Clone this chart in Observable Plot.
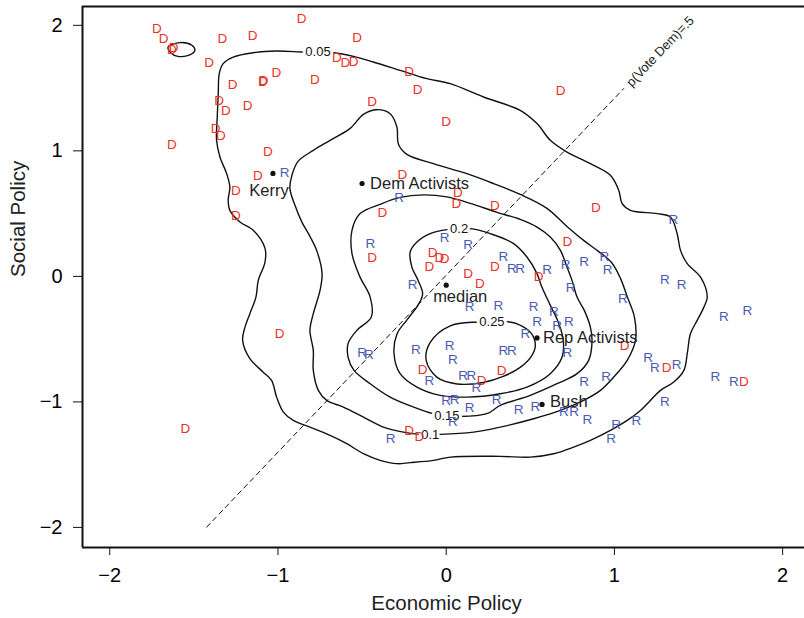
<!DOCTYPE html>
<html>
<head>
<meta charset="utf-8">
<script src="https://cdn.jsdelivr.net/npm/d3@7"></script>
<script src="https://cdn.jsdelivr.net/npm/@observablehq/plot@0.6"></script>
<style>
  html, body { margin: 0; padding: 0; background: #fff; }
  #chart svg { display: block; }
</style>
</head>
<body>
<div id="chart"></div>
<script>
// ---- Data ----
const xTicks = [-2, -1, 0, 1, 2];
const yTicks = [-2, -1, 0, 1, 2];

// Democratic respondents (economic, social)
const demEcon = [-1.72,-1.68,-1.63,-1.62,-0.86,-1.33,-1.15,-0.53,-1.41,-0.65,-0.60,-0.55,-0.22,-0.17,-1.27,-1.09,-1.085,-1.01,-0.78,-0.44,-1.35,-1.31,-1.18,0.00,-1.37,-1.34,-1.63,-1.06,-1.12,-1.25,-1.25,-0.26,-0.38,0.68,0.07,0.06,0.29,0.89,0.72,-0.44,-0.08,-0.04,-0.01,-0.10,0.29,0.13,0.20,0.55,1.06,-0.14,0.33,0.21,-0.22,-0.16,-0.99,-1.55,1.31,1.77];
const demSocial = [1.97,1.89,1.81,1.82,2.05,1.89,1.92,1.90,1.70,1.74,1.70,1.71,1.63,1.49,1.53,1.55,1.56,1.62,1.57,1.39,1.40,1.32,1.36,1.23,1.18,1.12,1.05,0.99,0.80,0.68,0.48,0.81,0.51,1.48,0.67,0.58,0.56,0.55,0.28,0.15,0.19,0.15,0.14,0.08,0.08,0.02,-0.06,0.00,-0.55,-0.74,-0.75,-0.83,-1.23,-1.28,-0.46,-1.21,-0.73,-0.84];

// Republican respondents (economic, social)
const repEcon = [-0.96,-0.28,-0.45,-0.01,0.13,0.34,0.39,0.44,0.60,0.71,0.82,0.94,0.96,0.74,1.05,-0.20,0.14,0.31,0.52,0.64,0.54,0.66,0.73,0.47,-0.50,-0.46,-0.18,0.02,0.04,0.34,0.39,0.72,0.10,0.15,-0.10,0.18,0.00,0.05,0.30,0.14,0.43,0.53,0.82,0.95,1.20,1.24,0.04,-0.33,0.70,0.76,0.84,1.01,1.13,0.98,1.30,1.40,1.65,1.79,1.37,1.60,1.71,1.30,1.35];
const repSocial = [0.83,0.63,0.26,0.31,0.25,0.16,0.06,0.06,0.05,0.09,0.12,0.16,0.05,-0.09,-0.18,-0.07,-0.24,-0.23,-0.24,-0.28,-0.36,-0.39,-0.36,-0.46,-0.61,-0.62,-0.58,-0.55,-0.66,-0.59,-0.59,-0.61,-0.79,-0.79,-0.83,-0.89,-0.99,-0.98,-0.98,-1.05,-1.06,-1.04,-0.84,-0.80,-0.65,-0.73,-1.16,-1.29,-1.08,-1.08,-1.14,-1.18,-1.15,-1.29,-0.03,-0.07,-0.32,-0.27,-0.70,-0.80,-0.84,-1.00,0.45];

// Reference points
const refNames = ["Kerry", "Dem Activists", "median", "Rep Activists", "Bush"];
const refEcon = [-1.03, -0.50, 0.00, 0.54, 0.57];
const refSocial = [0.82, 0.74, -0.07, -0.49, -1.02];

// Density contours (closed curves, data units)
const contour005 = [[-0.671,1.782],[-0.552,1.753],[-0.433,1.708],[-0.274,1.641],[-0.115,1.575],[0.024,1.535],[0.222,1.429],[0.440,1.323],[0.540,1.217],[0.619,1.084],[0.718,0.990],[0.857,0.898],[0.976,0.805],[1.026,0.685],[1.046,0.579],[1.095,0.526],[1.254,0.500],[1.333,0.473],[1.373,0.340],[1.393,0.207],[1.433,0.101],[1.512,-0.006],[1.552,-0.165],[1.532,-0.245],[1.492,-0.351],[1.452,-0.457],[1.433,-0.616],[1.413,-0.749],[1.353,-0.842],[1.274,-0.908],[1.214,-0.988],[1.155,-1.068],[1.076,-1.147],[0.976,-1.227],[0.857,-1.307],[0.758,-1.360],[0.639,-1.413],[0.500,-1.440],[0.321,-1.434],[0.024,-1.440],[-0.076,-1.466],[-0.214,-1.484],[-0.293,-1.492],[-0.393,-1.466],[-0.492,-1.413],[-0.591,-1.333],[-0.690,-1.267],[-0.810,-1.201],[-0.909,-1.147],[-0.968,-1.081],[-1.008,-0.962],[-1.038,-0.829],[-1.088,-0.763],[-1.167,-0.656],[-1.210,-0.510],[-1.196,-0.404],[-1.167,-0.297],[-1.131,-0.165],[-1.117,-0.032],[-1.077,0.114],[-1.077,0.223],[-1.147,0.367],[-1.226,0.433],[-1.286,0.526],[-1.296,0.606],[-1.286,0.712],[-1.305,0.818],[-1.345,0.951],[-1.365,1.084],[-1.361,1.269],[-1.355,1.456],[-1.349,1.615],[-1.326,1.695],[-1.266,1.747],[-1.147,1.782],[-1.008,1.795],[-0.849,1.787],[-0.762,1.785]];
const contour005b = [[-1.653,1.827],[-1.583,1.862],[-1.512,1.841],[-1.494,1.801],[-1.524,1.765],[-1.595,1.753],[-1.633,1.775]];
const contour010 = [[-0.036,-1.259],[0.163,-1.241],[0.321,-1.201],[0.520,-1.134],[0.679,-1.068],[0.817,-0.988],[0.917,-0.908],[0.996,-0.802],[1.076,-0.669],[1.125,-0.510],[1.119,-0.324],[1.077,-0.165],[1.036,-0.016],[0.982,0.112],[0.905,0.199],[0.817,0.287],[0.718,0.398],[0.599,0.542],[0.440,0.653],[0.282,0.739],[0.123,0.818],[-0.076,0.898],[-0.234,0.972],[-0.284,1.052],[-0.293,1.190],[-0.333,1.296],[-0.413,1.328],[-0.492,1.291],[-0.571,1.179],[-0.690,1.084],[-0.790,1.004],[-0.881,0.916],[-0.917,0.805],[-0.929,0.701],[-0.899,0.566],[-0.857,0.430],[-0.810,0.319],[-0.770,0.207],[-0.738,0.024],[-0.750,-0.112],[-0.790,-0.297],[-0.810,-0.430],[-0.790,-0.590],[-0.790,-0.749],[-0.760,-0.908],[-0.710,-0.988],[-0.611,-1.041],[-0.492,-1.121],[-0.373,-1.201],[-0.254,-1.241],[-0.155,-1.259]];
const contour015 = [[0.004,-1.108],[0.083,-1.116],[0.242,-1.094],[0.321,-1.028],[0.500,-0.948],[0.659,-0.855],[0.778,-0.775],[0.847,-0.669],[0.867,-0.510],[0.857,-0.404],[0.821,-0.271],[0.778,-0.165],[0.748,-0.032],[0.718,0.074],[0.679,0.207],[0.619,0.313],[0.540,0.393],[0.440,0.454],[0.302,0.510],[0.143,0.582],[0.004,0.633],[-0.135,0.649],[-0.274,0.629],[-0.393,0.574],[-0.512,0.500],[-0.560,0.367],[-0.560,0.181],[-0.512,-0.006],[-0.452,-0.165],[-0.445,-0.324],[-0.531,-0.430],[-0.583,-0.534],[-0.583,-0.645],[-0.548,-0.749],[-0.452,-0.855],[-0.333,-0.962],[-0.195,-1.041],[-0.077,-1.094]];
const contour020 = [[0.077,0.375],[0.143,0.380],[0.262,0.340],[0.401,0.261],[0.480,0.154],[0.540,0.022],[0.565,-0.072],[0.619,-0.231],[0.667,-0.367],[0.696,-0.510],[0.689,-0.643],[0.619,-0.775],[0.480,-0.882],[0.321,-0.935],[0.123,-0.962],[-0.036,-0.948],[-0.174,-0.882],[-0.274,-0.775],[-0.310,-0.616],[-0.292,-0.457],[-0.226,-0.335],[-0.161,-0.215],[-0.140,-0.138],[-0.167,-0.032],[-0.204,0.074],[-0.214,0.194],[-0.174,0.273],[-0.095,0.340],[0.004,0.372]];
const contour025 = [[0.274,-0.359],[0.351,-0.359],[0.429,-0.382],[0.506,-0.454],[0.530,-0.550],[0.506,-0.637],[0.440,-0.725],[0.339,-0.797],[0.220,-0.845],[0.065,-0.857],[-0.054,-0.805],[-0.119,-0.669],[-0.095,-0.526],[0.024,-0.394],[0.190,-0.363]];

const contourLevels = ["0.05", "0.1", "0.15", "0.2", "0.25"];
const contourLabelEcon = [-0.762, -0.095, 0.004, 0.077, 0.272];
const contourLabelSocial = [1.785, -1.259, -1.108, 0.375, -0.359];

// p(Vote Dem) = .5 line
const cutEcon = [-1.424, 1.055];
const cutSocial = [-1.998, 1.496];

// ---- Build tables ----
const dems = demEcon.map((x, i) => ({x, y: demSocial[i]}));
const reps = repEcon.map((x, i) => ({x, y: repSocial[i]}));
const refs = refNames.map((name, i) => ({name, x: refEcon[i], y: refSocial[i]}));
const curves = [contour005, contour005b, contour010, contour015, contour020, contour025];
const labels = contourLevels.map((t, i) => ({t, x: contourLabelEcon[i], y: contourLabelSocial[i]}));
const cut = cutEcon.map((x, i) => ({x, y: cutSocial[i]}));

const X0 = -2.162, X1 = 2.13, Y0 = -2.16, Y1 = 2.15;
const font = "'Liberation Sans', Arial, Helvetica, sans-serif";

const refOffsets = {
  "Kerry": {dx: -4, dy: 17, anchor: "middle"},
  "Dem Activists": {dx: 8, dy: 0, anchor: "start"},
  "median": {dx: 14, dy: 12, anchor: "middle"},
  "Rep Activists": {dx: 6, dy: 0, anchor: "start"},
  "Bush": {dx: 8, dy: -3, anchor: "start"}
};

const refLabelMarks = refNames.map(n => Plot.text(refs.filter(d => d.name === n), {
  x: "x", y: "y", text: "name", dx: refOffsets[n].dx, dy: refOffsets[n].dy,
  textAnchor: refOffsets[n].anchor, fontSize: 16.5, fill: "#222"
}));

const chart = Plot.plot({
  width: 804,
  height: 618,
  marginLeft: 82,
  marginRight: 0,
  marginTop: 6,
  marginBottom: 71,
  style: {fontFamily: font, background: "#fff"},
  x: {domain: [X0, X1]},
  y: {domain: [Y0, Y1]},
  marks: [
    ...curves.map(c => Plot.line(c, {x: d => d[0], y: d => d[1], curve: "catmull-rom-closed", stroke: "#111", strokeWidth: 1.4})),
    Plot.line(cut, {x: "x", y: "y", stroke: "#111", strokeWidth: 1, strokeDasharray: "5,4"}),
    Plot.text([cut[1]], {x: "x", y: "y", text: () => "p(Vote Dem)=.5", rotate: -46.5, textAnchor: "start", lineAnchor: "middle", dx: 5, dy: -4, fontSize: 13, fill: "#222"}),
    Plot.text(labels, {x: "x", y: "y", text: "t", fontSize: 13, fill: "#111", stroke: "white", strokeWidth: 6, paintOrder: "stroke", textAnchor: "middle", lineAnchor: "middle"}),
    Plot.text(dems, {x: "x", y: "y", text: () => "D", fill: "#e8322a", fontSize: 13.5, lineAnchor: "middle"}),
    Plot.text(reps, {x: "x", y: "y", text: () => "R", fill: "#4a5ab4", fontSize: 13.5, lineAnchor: "middle"}),
    Plot.dot(refs, {x: "x", y: "y", r: 2.6, fill: "#111", stroke: null}),
    ...refLabelMarks,
    // frame (left, bottom, top)
    Plot.ruleX([X0], {stroke: "#111", strokeWidth: 2}),
    Plot.ruleY([Y0], {stroke: "#111", strokeWidth: 2}),
    Plot.ruleY([Y1], {stroke: "#111", strokeWidth: 2}),
    Plot.axisX({ticks: xTicks, tickFormat: d3.format("d"), tickSize: 8, tickPadding: 12, fontSize: 20, label: null, stroke: "#111"}),
    Plot.axisY({ticks: yTicks, tickFormat: d3.format("d"), tickSize: 9, tickPadding: 11, fontSize: 20, label: null, stroke: "#111"}),
    Plot.text(["Economic Policy"], {frameAnchor: "bottom", text: d => d, dy: 62, dx: 3, fontSize: 20.5, fill: "#222"}),
    Plot.text(["Social Policy"], {frameAnchor: "left", text: d => d, rotate: -90, dx: -64, fontSize: 20.5, fill: "#222"})
  ]
});

document.getElementById("chart").appendChild(chart);
</script>
</body>
</html>
